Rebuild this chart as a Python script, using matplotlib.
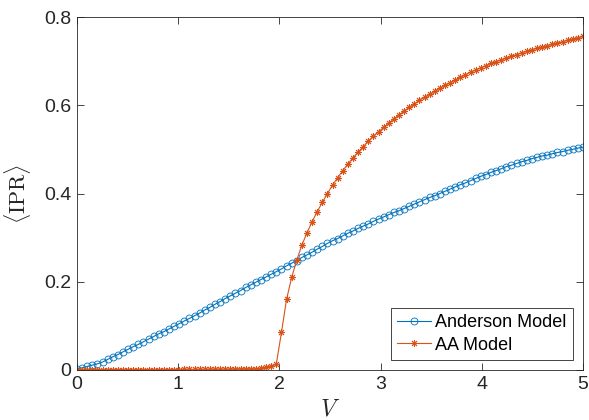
import numpy as np
import matplotlib.pyplot as plt

plt.rcParams['font.family'] = ['Liberation Sans', 'DejaVu Sans']
plt.rcParams['mathtext.fontset'] = 'cm'

# disorder strength grid (100 samples from 0 to 5)
V = np.linspace(0, 5, 100)

ipr_anderson = [
    0.003, 0.005, 0.008, 0.011, 0.014, 0.018, 0.024, 0.030, 0.035, 0.041,
    0.047, 0.053, 0.058, 0.064, 0.070, 0.076, 0.082, 0.087, 0.093, 0.099,
    0.105, 0.111, 0.117, 0.123, 0.129, 0.136, 0.142, 0.149, 0.155, 0.162,
    0.168, 0.174, 0.180, 0.187, 0.193, 0.199, 0.205, 0.211, 0.217, 0.223,
    0.229, 0.236, 0.242, 0.248, 0.255, 0.261, 0.267, 0.274, 0.280, 0.287,
    0.293, 0.298, 0.304, 0.310, 0.315, 0.321, 0.326, 0.331, 0.337, 0.342,
    0.347, 0.352, 0.357, 0.361, 0.366, 0.371, 0.376, 0.381, 0.386, 0.391,
    0.395, 0.400, 0.405, 0.410, 0.415, 0.420, 0.424, 0.429, 0.434, 0.439,
    0.443, 0.448, 0.452, 0.456, 0.461, 0.464, 0.468, 0.472, 0.475, 0.479,
    0.482, 0.485, 0.487, 0.490, 0.493, 0.495, 0.498, 0.500, 0.503, 0.505,
]

ipr_aa = [
    0.001, 0.001, 0.001, 0.001, 0.001, 0.001, 0.001, 0.001, 0.001, 0.001,
    0.001, 0.001, 0.001, 0.001, 0.001, 0.001, 0.001, 0.001, 0.001, 0.001,
    0.001, 0.0015, 0.0015, 0.0015, 0.0015, 0.0015, 0.002, 0.002, 0.002, 0.002,
    0.002, 0.003, 0.003, 0.003, 0.003, 0.003, 0.004, 0.006, 0.008, 0.014,
    0.085, 0.160, 0.210, 0.249, 0.283, 0.311, 0.336, 0.359, 0.380, 0.400,
    0.419, 0.436, 0.452, 0.467, 0.481, 0.494, 0.506, 0.519, 0.530, 0.540,
    0.550, 0.560, 0.569, 0.578, 0.587, 0.595, 0.603, 0.611, 0.618, 0.625,
    0.632, 0.639, 0.645, 0.651, 0.657, 0.663, 0.669, 0.675, 0.680, 0.685,
    0.690, 0.695, 0.699, 0.703, 0.707, 0.711, 0.715, 0.719, 0.722, 0.726,
    0.729, 0.732, 0.735, 0.738, 0.741, 0.744, 0.747, 0.750, 0.753, 0.756,
]

blue = '#0072BD'
orange = '#D95319'
axcol = '#262626'

fig = plt.figure(figsize=(5.89, 4.2), dpi=100)
ax = fig.add_axes([77/589, 50/420, 506/589, 353/420])

ax.plot(V, ipr_anderson, color=blue, lw=0.8, marker='o', ms=5,
        mfc='none', mec=blue, mew=0.6, label='Anderson Model')
ax.plot(V, ipr_aa, color=orange, lw=0.8, marker=(8, 2, 0), ms=5,
        mec=orange, mew=0.7, label='AA Model')

ax.set_xlim(0, 5)
ax.set_ylim(0, 0.8)
ax.set_xticks([0, 1, 2, 3, 4, 5])
ax.set_yticks([0, 0.2, 0.4, 0.6, 0.8])
ax.set_yticklabels(['0', '0.2', '0.4', '0.6', '0.8'])

ax.tick_params(direction='in', length=5, width=0.6, top=True, right=True,
               labelsize=14, colors=axcol, pad=4)
for s in ax.spines.values():
    s.set_color(axcol)
    s.set_linewidth(0.6)

ax.set_xlabel(r'$V$', fontsize=17, color=axcol, labelpad=4)
ax.set_ylabel(r'$\langle \mathrm{IPR} \rangle$', fontsize=16, color=axcol,
              labelpad=8)

leg = ax.legend(loc='lower right', fontsize=13, frameon=True, fancybox=False,
                edgecolor=axcol, framealpha=1, borderaxespad=0.55,
                handlelength=1.85, handletextpad=0.25, borderpad=0.35,
                labelspacing=0.3)
leg.get_frame().set_linewidth(0.6)

fig.savefig('out.png', dpi=100)
